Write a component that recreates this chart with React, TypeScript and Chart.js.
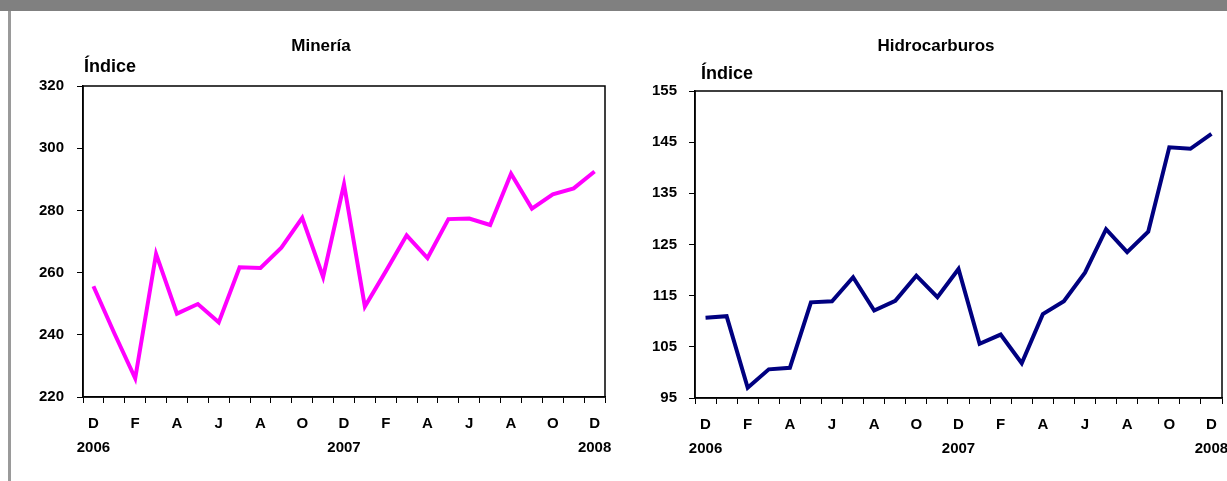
import React, { useEffect, useRef } from "react";
import { Chart, registerables } from "chart.js";

Chart.register(...registerables);

const months = [
  "D", "E", "F", "M", "A", "M", "J", "J", "A", "S", "O", "N",
  "D", "E", "F", "M", "A", "M", "J", "J", "A", "S", "O", "N", "D",
];
const years = [
  "2006", "", "", "", "", "", "", "", "", "", "", "",
  "2007", "", "", "", "", "", "", "", "", "", "", "", "2008",
];

const mineria = [
  255.6, 240.5, 226.0, 266.0, 246.8, 249.9, 244.0, 261.7, 261.5, 268.0, 277.6, 258.6,
  288.4, 249.1, 260.4, 272.0, 264.7, 277.2, 277.4, 275.3, 291.8, 280.6, 285.2, 287.1, 292.5,
];
const hidrocarburos = [
  110.7, 111.0, 97.0, 100.6, 100.9, 113.7, 113.9, 118.6, 112.1, 114.0, 118.9, 114.7,
  120.2, 105.6, 107.4, 101.8, 111.4, 113.9, 119.5, 128.0, 123.5, 127.5, 144.0, 143.7, 146.6,
];

const mineriaTicks = { min: 220, max: 320, step: 20 };
const hidroTicks = { min: 95, max: 155, step: 10 };

const FONT = '"Liberation Sans", Arial, Helvetica, sans-serif';

const framePlugin = {
  id: "frameText",
  afterDraw(chart: any, _args: any, opts: any) {
    const { ctx, chartArea: a } = chart;
    ctx.save();
    ctx.strokeStyle = "#000";
    ctx.lineWidth = 1.5;
    ctx.strokeRect(a.left, a.top, a.right - a.left, a.bottom - a.top);
    ctx.fillStyle = "#000";
    ctx.textBaseline = "alphabetic";
    ctx.font = `bold 17px ${FONT}`;
    ctx.textAlign = "center";
    ctx.fillText(opts.title, opts.titleX, opts.titleY);
    ctx.font = `bold 18px ${FONT}`;
    ctx.textAlign = "left";
    ctx.fillText(opts.unit, opts.unitX, opts.unitY);
    ctx.restore();
  },
};

type PanelProps = {
  left: number;
  width: number;
  height: number;
  title: string;
  values: number[];
  color: string;
  range: { min: number; max: number; step: number };
  padTop: number;
  padRight: number;
  xHeight: number;
  yPad: number;
  titleX: number;
  titleY: number;
  unitX: number;
  unitY: number;
};

function Panel(p: PanelProps) {
  const ref = useRef<HTMLCanvasElement | null>(null);
  useEffect(() => {
    if (!ref.current) return;
    const chart = new Chart(ref.current, {
      type: "line",
      data: {
        labels: months,
        datasets: [
          {
            data: p.values,
            borderColor: p.color,
            backgroundColor: p.color,
            borderWidth: 4,
            pointRadius: 0,
            tension: 0,
            fill: false,
          },
        ],
      },
      options: {
        animation: false,
        responsive: false,
        devicePixelRatio: 1,
        layout: { padding: { top: p.padTop, right: p.padRight, left: 0, bottom: 0 } },
        plugins: {
          legend: { display: false },
          tooltip: { enabled: false },
          title: { display: false },
          frameText: {
            title: p.title,
            unit: "Índice",
            titleX: p.titleX,
            titleY: p.titleY,
            unitX: p.unitX,
            unitY: p.unitY,
          },
        } as any,
        scales: {
          x: {
            type: "category",
            offset: true,
            grid: {
              offset: true,
              drawOnChartArea: false,
              drawTicks: true,
              tickLength: 6,
              color: "#000",
              lineWidth: 1,
            },
            border: { display: true, color: "#000", width: 1.5 },
            ticks: {
              autoSkip: false,
              maxRotation: 0,
              minRotation: 0,
              padding: 9,
              color: "#000",
              font: { family: FONT, size: 15, weight: "bold", lineHeight: 1.6 },
              callback: (_v: any, i: number) => {
                if (i % 2 !== 0) return "";
                return years[i] ? [months[i], years[i]] : months[i];
              },
            },
            afterFit: (s: any) => {
              s.height = p.xHeight;
            },
          },
          y: {
            min: p.range.min,
            max: p.range.max,
            grid: {
              drawOnChartArea: false,
              drawTicks: true,
              tickLength: 6,
              color: "#000",
              lineWidth: 1,
            },
            border: { display: true, color: "#000", width: 1.5 },
            ticks: {
              stepSize: p.range.step,
              padding: p.yPad,
              color: "#000",
              font: { family: FONT, size: 15, weight: "bold" },
            },
            afterFit: (s: any) => {
              s.width = 71;
            },
          },
        },
      },
      plugins: [framePlugin as any],
    });
    return () => chart.destroy();
  }, []);
  return (
    <canvas
      ref={ref}
      width={p.width}
      height={p.height}
      style={{ position: "absolute", left: p.left, top: 20, width: p.width, height: p.height }}
    />
  );
}

export default function App() {
  return (
    <div
      style={{
        position: "absolute",
        left: 0,
        top: 0,
        width: 1227,
        height: 481,
        overflow: "hidden",
        background: "#fff",
      }}
    >
      <div style={{ position: "absolute", left: 0, top: 0, width: 1227, height: 11, background: "#808080" }} />
      <div style={{ position: "absolute", left: 8, top: 11, width: 3, height: 470, background: "#9a9a9a" }} />
      <Panel
        left={12}
        width={611}
        height={455}
        title="Minería"
        values={mineria}
        color="#ff00ff"
        range={mineriaTicks}
        padTop={66}
        padRight={18}
        xHeight={78}
        yPad={13}
        titleX={309}
        titleY={31}
        unitX={72}
        unitY={52}
      />
      <Panel
        left={624}
        width={618}
        height={455}
        title="Hidrocarburos"
        values={hidrocarburos}
        color="#000080"
        range={hidroTicks}
        padTop={71}
        padRight={20}
        xHeight={77}
        yPad={12}
        titleX={312}
        titleY={31}
        unitX={77}
        unitY={59}
      />
    </div>
  );
}
